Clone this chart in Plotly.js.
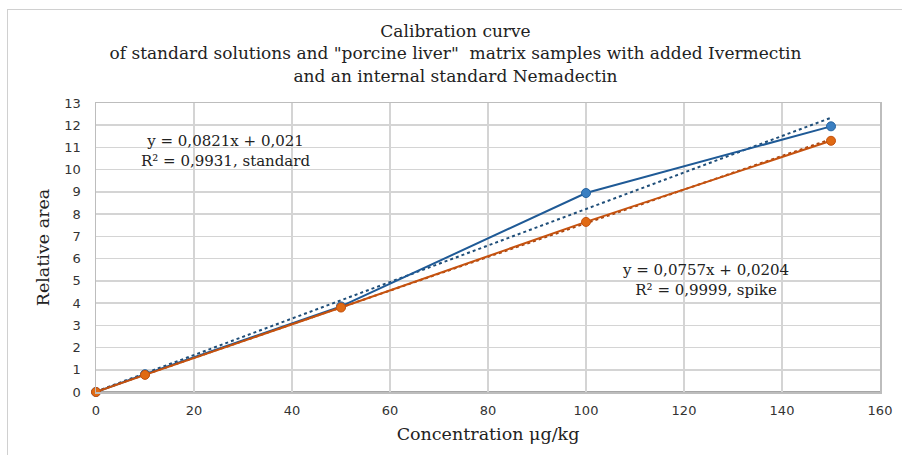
<!DOCTYPE html>
<html>
<head>
<meta charset="utf-8">
<script src="https://cdn.plot.ly/plotly-3.0.1.min.js"></script>
<style>
html,body{margin:0;padding:0;background:#fff;overflow:hidden;}
#frame{position:absolute;left:7px;top:9px;width:1000px;height:1000px;border:1px solid #d0d0d0;box-sizing:border-box;pointer-events:none;z-index:5;}
#chart{position:absolute;left:0;top:0;width:902px;height:455px;}
</style>
</head>
<body>
<div id="chart"></div>
<div id="frame"></div>
<script>
// Data
const concentration = [0, 10, 50, 100, 150];
const standardArea = [0, 0.80, 3.85, 8.95, 11.95];
const spikeArea = [0, 0.77, 3.80, 7.65, 11.30];
// Linear trendline endpoints (from the displayed equations)
const trendX = [0, 150];
const standardTrend = [0.021, 12.336];
const spikeTrend = [0.0204, 11.375];
const xTicks = [0, 20, 40, 60, 80, 100, 120, 140, 160];
const yTicks = [0,1,2,3,4,5,6,7,8,9,10,11,12,13];

const serif = '"DejaVu Serif", "Liberation Serif", serif';
const sans = '"DejaVu Sans", Verdana, sans-serif';

const traces = [
  {x: trendX, y: standardTrend, mode: 'lines', line: {color: '#1F4E79', width: 2, dash: 'dot'}, hoverinfo: 'skip', cliponaxis: false},
  {x: concentration, y: standardArea, mode: 'lines+markers', cliponaxis: false,
   line: {color: '#1F5A96', width: 2},
   marker: {size: 9, color: '#3A7FC1', line: {color: '#2563A0', width: 1}}},
  {x: trendX, y: spikeTrend, mode: 'lines', line: {color: '#A8440E', width: 2, dash: 'dot'}, hoverinfo: 'skip', cliponaxis: false},
  {x: concentration, y: spikeArea, mode: 'lines+markers', cliponaxis: false,
   line: {color: '#C5520F', width: 2},
   marker: {size: 9, color: '#E06A14', line: {color: '#C5520F', width: 1}}}
];

const layout = {
  width: 902, height: 455,
  margin: {l: 96, r: 22, t: 103, b: 63},
  paper_bgcolor: '#ffffff', plot_bgcolor: '#ffffff',
  showlegend: false,
  title: {
    text: 'Calibration curve<br>of standard solutions and "porcine liver"  matrix samples with added Ivermectin<br>and an internal standard Nemadectin',
    font: {family: serif, size: 17, color: '#222222'},
    x: 0.505, xanchor: 'center', y: 0.918, yanchor: 'top'
  },
  xaxis: {
    range: [0, 160], tickvals: xTicks, ticktext: xTicks.map(String),
    showgrid: true, gridcolor: '#d4d4d4', gridwidth: 1.5,
    zeroline: false, showline: true, linecolor: '#bdbdbd', linewidth: 1.5, mirror: true,
    ticks: '', ticklabelstandoff: 6, tickfont: {family: sans, size: 13, color: '#333333'},
    title: {text: 'Concentration μg/kg', font: {family: serif, size: 17.5, color: '#222222'}, standoff: 10}
  },
  yaxis: {
    range: [0, 13], tickvals: yTicks, ticktext: yTicks.map(String),
    showgrid: true, gridcolor: '#d4d4d4', gridwidth: 1.5,
    zeroline: false, showline: true, linecolor: '#bdbdbd', linewidth: 1.5, mirror: true,
    ticks: '', ticklabelstandoff: 11, tickfont: {family: sans, size: 13, color: '#333333'},
    title: {text: 'Relative area', font: {family: serif, size: 17.5, color: '#222222'}, standoff: 10}
  },
  shapes: [
    {type: 'line', xref: 'paper', yref: 'y', x0: 0, x1: 1, y0: 0, y1: 0, layer: 'below', line: {color: '#a6a6a6', width: 2}}
  ],
  annotations: [
    {xref: 'x', yref: 'y', x: 26.5, y: 10.84, text: 'y = 0,0821x + 0,021<br>R² = 0,9931, standard',
     showarrow: false, font: {family: serif, size: 15, color: '#222222'}, align: 'center', xanchor: 'center', yanchor: 'middle'},
    {xref: 'x', yref: 'y', x: 124.3, y: 5.04, text: 'y = 0,0757x + 0,0204<br>R² = 0,9999, spike',
     showarrow: false, font: {family: serif, size: 15, color: '#222222'}, align: 'center', xanchor: 'center', yanchor: 'middle'}
  ]
};

Plotly.newPlot('chart', traces, layout, {staticPlot: true, displayModeBar: false});
</script>
</body>
</html>
